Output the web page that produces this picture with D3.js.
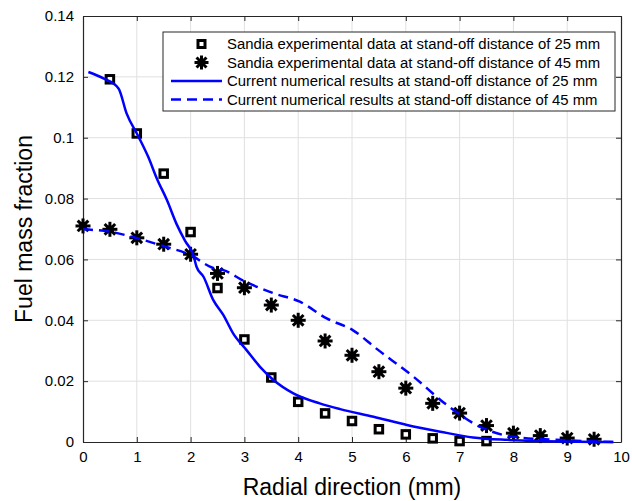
<!DOCTYPE html>
<html>
<head>
<meta charset="utf-8">
<script src="https://cdn.jsdelivr.net/npm/d3@7"></script>
<style>
  body { margin: 0; background: #fff; }
  text { font-family: "Liberation Sans", Arial, sans-serif; }
</style>
</head>
<body>
<div id="chart"></div>
<script>
// experimental data, 25 mm
const expX25 = [0.5, 1, 1.5, 2, 2.5, 3, 3.5, 4, 4.5, 5, 5.5, 6, 6.5, 7, 7.5];
const expY25 = [0.1192, 0.1014, 0.0882, 0.0690, 0.0506, 0.0337, 0.0212, 0.0132, 0.0094, 0.0069, 0.0042, 0.0025, 0.0012, 0.0003, 0.0003];

// experimental data, 45 mm
const expX45 = [0, 0.5, 1, 1.5, 2, 2.5, 3, 3.5, 4, 4.5, 5, 5.5, 6, 6.5, 7, 7.5, 8, 8.5, 9, 9.5];
const expY45 = [0.0710, 0.0699, 0.0671, 0.0650, 0.0617, 0.0554, 0.0507, 0.0450, 0.0400, 0.0332, 0.0285, 0.0231, 0.0177, 0.0127, 0.0095, 0.0054, 0.0029, 0.0021, 0.0013, 0.0009];

// numerical, 25 mm
const numX25 = [0.1, 0.38, 0.66, 0.81, 1.03, 1.21, 1.37, 1.56, 1.74, 1.9, 2.05, 2.11, 2.24, 2.42, 2.61, 2.79, 3.04, 3.29, 3.54, 3.91, 4.4, 4.78, 5.4, 6.02, 6.64, 7.25, 7.88, 8.49, 9.2, 9.85];
const numY25 = [0.1216, 0.1195, 0.1162, 0.1080, 0.1004, 0.0938, 0.0867, 0.0795, 0.0716, 0.0660, 0.0615, 0.0576, 0.0543, 0.0467, 0.0417, 0.0357, 0.0302, 0.0247, 0.0204, 0.0160, 0.0127, 0.0108, 0.0083, 0.0056, 0.0034, 0.0015, 0.0007, 0.0003, 0.0001, 0.0];

// numerical, 45 mm
const numX45 = [0, 0.5, 1, 1.49, 1.99, 2.42, 2.61, 2.98, 3.54, 4.03, 4.53, 5.02, 5.46, 6.14, 6.76, 7.38, 8.0, 8.8, 9.86];
const numY45 = [0.0699, 0.0691, 0.0670, 0.0644, 0.0615, 0.0572, 0.0565, 0.0530, 0.0489, 0.0461, 0.0406, 0.0367, 0.0306, 0.0215, 0.0122, 0.0050, 0.0017, 0.0007, 0.0];

const xTicks = [0, 1, 2, 3, 4, 5, 6, 7, 8, 9, 10];
const yTicks = [0, 0.02, 0.04, 0.06, 0.08, 0.1, 0.12, 0.14];

const legendLabels = [
  "Sandia experimental data at stand-off distance of 25 mm",
  "Sandia experimental data at stand-off distance of 45 mm",
  "Current numerical results at stand-off distance of 25 mm",
  "Current numerical results at stand-off distance of 45 mm"
];

const width = 632, height = 501;
const m = { left: 83, right: 11, top: 16, bottom: 59 };
const BLUE = "#0000ff";

const svg = d3.select("#chart").append("svg").attr("width", width).attr("height", height);

const x = d3.scaleLinear().domain([0, 10]).range([m.left, width - m.right]);
const y = d3.scaleLinear().domain([0, 0.14]).range([height - m.bottom, m.top]);

// grid
svg.append("g").selectAll("line").data(xTicks.slice(1, -1)).join("line")
  .attr("x1", d => x(d)).attr("x2", d => x(d)).attr("y1", y(0)).attr("y2", y(0.14))
  .attr("stroke", "#e0e0e0").attr("stroke-width", 1);
svg.append("g").selectAll("line").data(yTicks.slice(1, -1)).join("line")
  .attr("y1", d => y(d)).attr("y2", d => y(d)).attr("x1", x(0)).attr("x2", x(10))
  .attr("stroke", "#e0e0e0").attr("stroke-width", 1);

// axes (ticks inward, box)
const fmtY = d => d === 0 ? "0" : String(+d.toFixed(2));
const xAxis = svg.append("g").attr("transform", `translate(0,${y(0)})`)
  .call(d3.axisBottom(x).tickValues(xTicks).tickFormat(d3.format("d")).tickSizeInner(-5).tickSizeOuter(0).tickPadding(9));
const xTop = svg.append("g").attr("transform", `translate(0,${y(0.14)})`)
  .call(d3.axisTop(x).tickValues(xTicks).tickFormat("").tickSizeInner(-5).tickSizeOuter(0));
const yAxis = svg.append("g").attr("transform", `translate(${x(0)},0)`)
  .call(d3.axisLeft(y).tickValues(yTicks).tickFormat(fmtY).tickSizeInner(-5).tickSizeOuter(0).tickPadding(9));
const yRight = svg.append("g").attr("transform", `translate(${x(10)},0)`)
  .call(d3.axisRight(y).tickValues(yTicks).tickFormat("").tickSizeInner(-5).tickSizeOuter(0));

[xAxis, xTop, yAxis, yRight].forEach(g => {
  g.select(".domain").attr("stroke", "#262626").attr("stroke-width", 1.2);
  g.selectAll(".tick line").attr("stroke", "#262626");
  g.selectAll("text").attr("font-size", 15).attr("fill", "#000").attr("font-family", "Liberation Sans, Arial, sans-serif");
});

// asterisk marker
function star(g, cx, cy, s) {
  const gg = g.append("g").attr("transform", `translate(${cx},${cy})`);
  gg.append("circle").attr("r", s * 0.55).attr("fill", "#000");
  for (let k = 0; k < 4; k++) {
    const a = k * Math.PI / 4;
    gg.append("line")
      .attr("x1", -Math.cos(a) * s).attr("y1", -Math.sin(a) * s)
      .attr("x2", Math.cos(a) * s).attr("y2", Math.sin(a) * s)
      .attr("stroke", "#000").attr("stroke-width", 3);
  }
}
function square(g, cx, cy, s) {
  g.append("rect").attr("x", cx - s / 2).attr("y", cy - s / 2).attr("width", s).attr("height", s)
    .attr("fill", "#fff").attr("stroke", "#000").attr("stroke-width", 3);
}

const marks = svg.append("g");
expX25.forEach((d, i) => square(marks, x(d), y(expY25[i]), 7.5));
expX45.forEach((d, i) => star(marks, x(d), y(expY45[i]), 7.5));

const line = d3.line().x(d => x(d[0])).y(d => y(d[1])).curve(d3.curveMonotoneX);
svg.append("path").datum(d3.zip(numX25, numY25)).attr("d", line)
  .attr("fill", "none").attr("stroke", BLUE).attr("stroke-width", 2.5);
svg.append("path").datum(d3.zip(numX45, numY45)).attr("d", line)
  .attr("fill", "none").attr("stroke", BLUE).attr("stroke-width", 2.5).attr("stroke-dasharray", "10,6");

// axis titles
svg.append("text").attr("x", (x(0) + x(10)) / 2).attr("y", 495).attr("text-anchor", "middle")
  .attr("font-size", 23).text("Radial direction (mm)");
svg.append("text").attr("transform", `translate(32,${(y(0) + y(0.14)) / 2}) rotate(-90)`).attr("text-anchor", "middle")
  .attr("font-size", 23).text("Fuel mass fraction");

// legend
const lg = svg.append("g");
lg.append("rect").attr("x", 163).attr("y", 32).attr("width", 452).attr("height", 79)
  .attr("fill", "#fff").attr("stroke", "#262626").attr("stroke-width", 1);
const rowY = [44, 62.5, 81, 99.5];
legendLabels.forEach((t, i) => {
  lg.append("text").attr("x", 227).attr("y", rowY[i] + 5.2).attr("font-size", 14.9).text(t);
});
square(lg, 201.5, rowY[0], 7);
star(lg, 201.5, rowY[1], 7);
lg.append("line").attr("x1", 171).attr("x2", 222).attr("y1", rowY[2]).attr("y2", rowY[2])
  .attr("stroke", BLUE).attr("stroke-width", 2.5);
lg.append("line").attr("x1", 171).attr("x2", 222).attr("y1", rowY[3]).attr("y2", rowY[3])
  .attr("stroke", BLUE).attr("stroke-width", 2.5).attr("stroke-dasharray", "10,6");
</script>
</body>
</html>
